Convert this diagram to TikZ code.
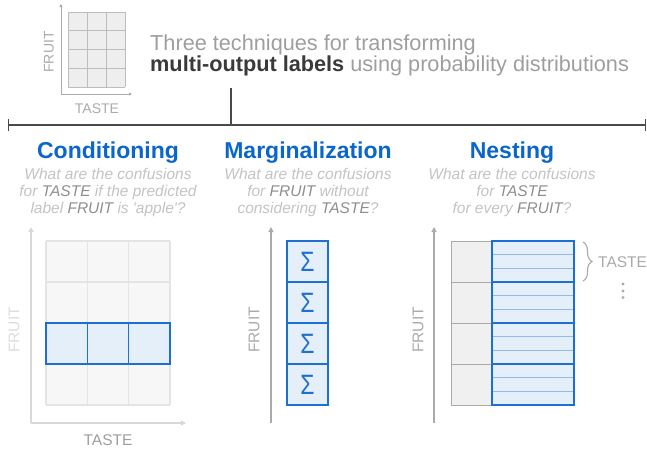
\documentclass[tikz,border=0pt]{standalone}
\usepackage{fontspec}
\setmainfont{Liberation Sans}
\usetikzlibrary{arrows.meta,decorations.pathreplacing}
\definecolor{hblue}{HTML}{0B66CC}
\definecolor{cblue}{HTML}{1D6FD1}
\definecolor{cfillblue}{HTML}{E5EFFA}
\definecolor{cinner}{HTML}{93BAE8}
\definecolor{iconfill}{HTML}{EEEEEE}
\definecolor{iconline}{HTML}{BDBDBD}
\definecolor{midgray}{HTML}{AAAAAA}
\definecolor{tgray}{HTML}{9E9E9E}
\definecolor{dgray}{HTML}{3A3A3A}
\definecolor{sgray}{HTML}{C3C3C3}
\definecolor{egray}{HTML}{8E8E8E}
\definecolor{cgfill}{HTML}{F7F7F7}
\definecolor{cgline}{HTML}{E4E4E4}
\definecolor{caxis}{HTML}{D8D8D8}
\definecolor{clbl}{HTML}{DDDDDD}
\definecolor{colfill}{HTML}{F0F0F0}
\definecolor{rulec}{HTML}{4A4A4A}
\newcommand{\hlw}[1]{\textcolor{egray}{#1}}
\newcommand{\sumsign}{\scalebox{0.82}[1]{Σ}}
\begin{document}
\begin{tikzpicture}[x=1pt,y=-1pt,
  ttl/.style={font=\fontsize{21.7}{21.7}\selectfont, text=tgray, inner sep=0, anchor=base west},
  head/.style={font=\bfseries\fontsize{23}{23}\selectfont, text=hblue, inner sep=0, anchor=base},
  sub/.style={font=\itshape\fontsize{15.5}{15.5}\selectfont, text=sgray, inner sep=0, anchor=base},
  axlbl/.style={font=\fontsize{15.5}{15.5}\selectfont, inner sep=0},
  iconlbl/.style={font=\fontsize{14}{14}\selectfont, text=midgray, inner sep=0},
  iconax/.style={draw=midgray, line width=0.8pt, -{Triangle[length=3pt,width=3pt]}},
  caxstyle/.style={draw=caxis, line width=1.5pt, -{Triangle[length=5pt,width=5pt]}},
  maxstyle/.style={draw=midgray, line width=2pt, -{Triangle[length=5pt,width=5pt]}},
  bluecell/.style={fill=cfillblue, draw=cblue, line width=1.3pt},
  mcell/.style={bluecell, minimum width=41pt, minimum height=41pt, inner sep=0, text=cblue, font=\fontsize{28}{28}\selectfont},
  graycell/.style={fill=colfill, draw=midgray, line width=1pt},
  rulestyle/.style={draw=rulec, line width=1.2pt},
  bracestyle/.style={draw=midgray, line width=1.1pt, decorate, decoration={brace, amplitude=9pt}}
]
\useasboundingbox (0,0) rectangle (647,448);

% ---- top icon ----
\fill[iconfill] (68,12) rectangle (125,87);
\foreach \x in {68,87,106,125} \draw[iconline, line width=0.8pt] (\x,12) -- (\x,87);
\foreach \y in {12,30.75,49.5,68.25,87} \draw[iconline, line width=0.8pt] (68,\y) -- (125,\y);
\coordinate (io) at (61,94);
\coordinate (iy) at (61,4);
\coordinate (ix) at (132,94);
\draw[iconax] (io) -- (iy);
\draw[iconax] (io) -- (ix);
\node[iconlbl, rotate=90] (ifruit) at (49,52) {FRUIT};
\node[iconlbl, anchor=base] (itaste) at (97,113) {TASTE};

% ---- title ----
\node[ttl] (t1) at (150,50) {Three techniques for transforming};
\node[ttl] (t2) at (150,71) {\textbf{\textcolor{dgray}{multi-output labels}} using probability distributions};

% ---- rule ----
\coordinate (vt) at (231,88);
\coordinate (vb) at (231,125);
\coordinate (hl) at (8,125);
\coordinate (hr) at (646,125);
\draw[rulestyle] (vt) -- (vb);
\draw[rulestyle, {Bar[width=12pt]}-{Bar[width=12pt]}] (hl) -- (hr);

% ---- headings ----
\node[head] (hc) at (108,158) {Conditioning};
\node[head] (hm) at (308,158) {Marginalization};
\node[head] (hn) at (512,158) {Nesting};

\node[sub] (c1) at (108,179) {What are the confusions};
\node[sub] (c2) at (108,196) {for \hlw{TASTE} if the predicted};
\node[sub] (c3) at (108,213) {label \hlw{FRUIT} is \textquotesingle apple\textquotesingle ?};

\node[sub] (g1) at (308,179) {What are the confusions};
\node[sub] (g2) at (308,196) {for \hlw{FRUIT} without};
\node[sub] (g3) at (308,213) {considering \hlw{TASTE}?};

\node[sub] (n1) at (512,179) {What are the confusions};
\node[sub] (n2) at (512,196) {for \hlw{TASTE}};
\node[sub] (n3) at (512,213) {for every \hlw{FRUIT}?};

% ---- conditioning ----
\fill[cgfill] (46,241) rectangle (170,405);
\foreach \x in {46,87.33,128.67,170} \draw[cgline, line width=1.3pt] (\x,241) -- (\x,405);
\foreach \y in {241,282,323,364,405} \draw[cgline, line width=1.3pt] (46,\y) -- (170,\y);
\foreach \a/\b in {46/87.33,87.33/128.67,128.67/170} \draw[bluecell] (\a,323) rectangle (\b,364);
\coordinate (co) at (31,423);
\coordinate (cy) at (31,227);
\coordinate (cx) at (186,423);
\draw[caxstyle] (co) -- (cy);
\draw[caxstyle] (co) -- (cx);
\node[axlbl, text=clbl, rotate=90] (cfruit) at (14,330) {FRUIT};
\node[axlbl, text=tgray, anchor=base] (ctaste) at (108,445) {TASTE};

% ---- marginalization ----
\node[mcell] (m1) at (307.5,261.5) {\sumsign};
\node[mcell] (m2) at (307.5,302.5) {\sumsign};
\node[mcell] (m3) at (307.5,343.5) {\sumsign};
\node[mcell] (m4) at (307.5,384.5) {\sumsign};
\coordinate (mo) at (271,423);
\coordinate (my) at (271,227);
\draw[maxstyle] (mo) -- (my);
\node[axlbl, text=midgray, rotate=90] (mfruit) at (254,330) {FRUIT};

% ---- nesting ----
\foreach \k in {0,1,2,3} {
  \pgfmathsetmacro{\ya}{241+41*\k}
  \pgfmathsetmacro{\yb}{282+41*\k}
  \draw[graycell] (451,\ya) rectangle (492,\yb);
  \fill[cfillblue] (492,\ya) rectangle (574,\yb);
  \draw[cinner, line width=1.4pt] (492,\ya+13.67) -- (574,\ya+13.67);
  \draw[cinner, line width=1.4pt] (492,\ya+27.33) -- (574,\ya+27.33);
  \draw[draw=cblue, line width=1.3pt] (492,\ya) rectangle (574,\yb);
}
\coordinate (no) at (434,423);
\coordinate (ny) at (434,227);
\draw[maxstyle] (no) -- (ny);
\node[axlbl, text=midgray, rotate=90] (nfruit) at (418,330) {FRUIT};

\coordinate (bt) at (583,242);
\coordinate (bb) at (583,281);
\draw[bracestyle] (bt) -- (bb);
\node[axlbl, text=midgray, anchor=base west] (ntaste) at (598,267) {TASTE};
\fill[midgray] (623,284) circle (1.7);
\fill[midgray] (623,291) circle (1.7);
\fill[midgray] (623,297.5) circle (1.7);
\end{tikzpicture}
\end{document}
